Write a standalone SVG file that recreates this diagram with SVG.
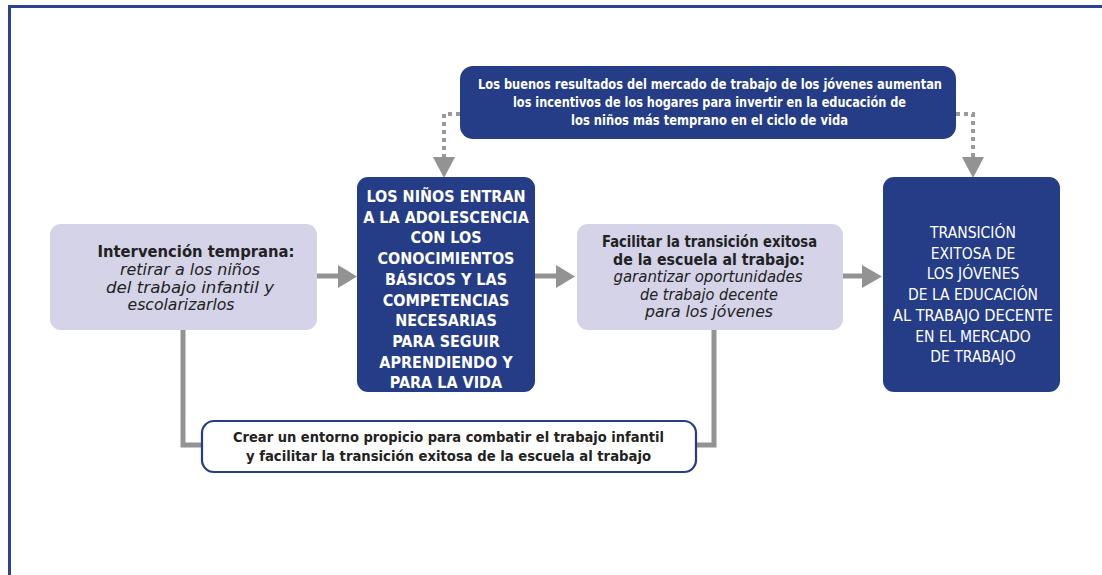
<svg xmlns="http://www.w3.org/2000/svg" width="1102" height="575" viewBox="0 0 1102 575">
<defs>
<style>
.frame{fill:none;stroke:#2b4391;stroke-width:3}
.dark{fill:#253c87}
.light{fill:#d4d3e8}
.outline{fill:#fff;stroke:#253c87;stroke-width:2.2}
.t{font-family:"Liberation Sans Narrow","DejaVu Sans Condensed","Liberation Sans",sans-serif;text-anchor:middle}
.w{fill:#fff}
.k{fill:#222}
.b{font-weight:bold}
.i{font-style:italic}
.conn{fill:none;stroke:#939393;stroke-width:5}
.dot{fill:none;stroke:#9a9a9a;stroke-width:4;stroke-dasharray:4 4}
.head{fill:#939393}
</style>
</defs>
<path class="frame" d="M9.5 575 V6.5 H1102"/>
<g id="connectors">
<path class="conn" d="M317 276 H340"/>
<polygon class="head" points="338,265 357,276.5 338,288"/>
<path class="conn" d="M535 276 H558"/>
<polygon class="head" points="556,265 575,276.5 556,288"/>
<path class="conn" d="M843 276 H864"/>
<polygon class="head" points="862,265 882,276.5 862,288"/>
<path class="dot" d="M460 114 H444 V160"/>
<polygon class="head" points="433,157 455,157 444,178"/>
<path class="dot" d="M956 114 H973 V160"/>
<polygon class="head" points="962,157 984,157 973,178"/>
<path class="conn" d="M183 330 V445 H203"/>
<path class="conn" d="M714 330 V445 H696"/>
</g>
<g id="top">
<rect class="dark" x="460" y="66" width="496" height="73" rx="13"/>
<text class="t w b" font-size="14.5"><tspan x="710" y="88.5" textLength="464" lengthAdjust="spacingAndGlyphs">Los buenos resultados del mercado de trabajo de los jóvenes aumentan</tspan><tspan x="709.5" y="106.5" textLength="393" lengthAdjust="spacingAndGlyphs">los incentivos de los hogares para invertir en la educación de</tspan><tspan x="709.5" y="124.5" textLength="277" lengthAdjust="spacingAndGlyphs">los niños más temprano en el ciclo de vida</tspan></text>
</g>
<g id="n1">
<rect class="light" x="50" y="224" width="267" height="106" rx="11"/>
<text class="t k" font-size="15.5"><tspan class="b" x="196" y="257" textLength="197" lengthAdjust="spacingAndGlyphs">Intervención temprana:</tspan><tspan class="i" x="190" y="275" textLength="140" lengthAdjust="spacingAndGlyphs">retirar a los niños</tspan><tspan class="i" x="190" y="292.5" textLength="168" lengthAdjust="spacingAndGlyphs">del trabajo infantil y</tspan><tspan class="i" x="181" y="310" textLength="107" lengthAdjust="spacingAndGlyphs">escolarizarlos</tspan></text>
</g>
<g id="n2">
<rect class="dark" x="357" y="177" width="178" height="215" rx="11"/>
<text class="t w b" font-size="16"><tspan x="446" y="202">LOS NIÑOS ENTRAN</tspan><tspan x="446" y="222.7">A LA ADOLESCENCIA</tspan><tspan x="446" y="243.4">CON LOS</tspan><tspan x="446" y="264.1">CONOCIMIENTOS</tspan><tspan x="446" y="284.8">BÁSICOS Y LAS</tspan><tspan x="446" y="305.5">COMPETENCIAS</tspan><tspan x="446" y="326.2">NECESARIAS</tspan><tspan x="446" y="346.9">PARA SEGUIR</tspan><tspan x="446" y="367.6">APRENDIENDO Y</tspan><tspan x="446" y="388.3">PARA LA VIDA</tspan></text>
</g>
<g id="n3">
<rect class="light" x="577" y="224" width="266" height="106" rx="11"/>
<text class="t k" font-size="15.5"><tspan class="b" x="709.5" y="247" textLength="215" lengthAdjust="spacingAndGlyphs">Facilitar la transición exitosa</tspan><tspan class="b" x="709" y="264.5" textLength="192" lengthAdjust="spacingAndGlyphs">de la escuela al trabajo:</tspan><tspan class="i" x="708" y="282" textLength="189" lengthAdjust="spacingAndGlyphs">garantizar oportunidades</tspan><tspan class="i" x="709" y="299.5" textLength="138" lengthAdjust="spacingAndGlyphs">de trabajo decente</tspan><tspan class="i" x="709" y="317" textLength="128" lengthAdjust="spacingAndGlyphs">para los jóvenes</tspan></text>
</g>
<g id="n4">
<rect class="dark" x="883" y="177" width="177" height="215" rx="11"/>
<text class="t w" font-size="15.5"><tspan x="973" y="238">TRANSICIÓN</tspan><tspan x="973" y="258.7">EXITOSA DE</tspan><tspan x="973" y="279.4">LOS JÓVENES</tspan><tspan x="973" y="300.1">DE LA EDUCACIÓN</tspan><tspan x="973" y="320.8" textLength="160" lengthAdjust="spacingAndGlyphs">AL TRABAJO DECENTE</tspan><tspan x="973" y="341.5">EN EL MERCADO</tspan><tspan x="973" y="362.2">DE TRABAJO</tspan></text>
</g>
<g id="bottom">
<rect class="outline" x="202" y="421" width="494" height="51" rx="12"/>
<text class="t k b" font-size="14.5"><tspan x="448.5" y="442" textLength="431" lengthAdjust="spacingAndGlyphs">Crear un entorno propicio para combatir el trabajo infantil</tspan><tspan x="448.5" y="461" textLength="405" lengthAdjust="spacingAndGlyphs">y facilitar la transición exitosa de la escuela al trabajo</tspan></text>
</g>
</svg>
